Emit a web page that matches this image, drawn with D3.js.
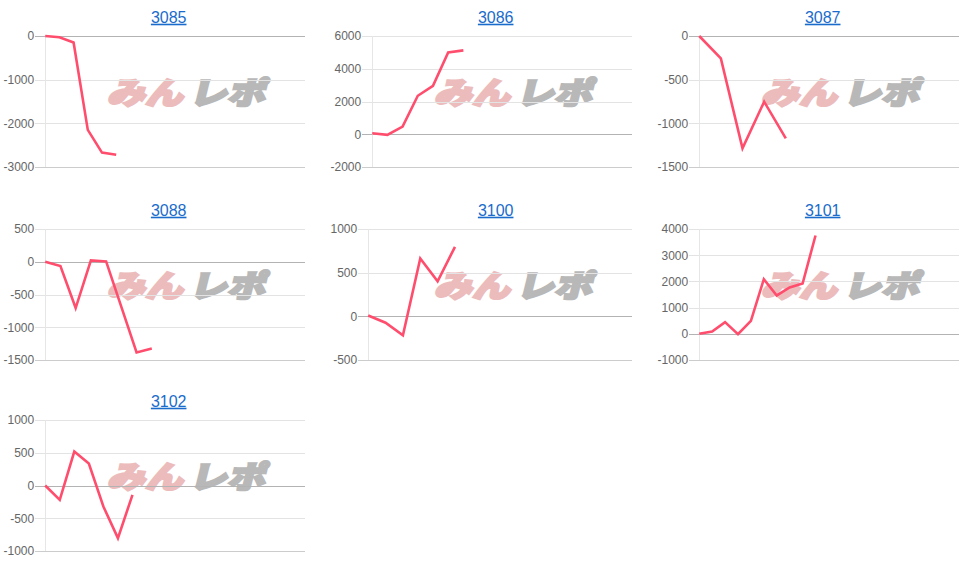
<!DOCTYPE html>
<html>
<head>
<meta charset="utf-8">
<script src="https://cdn.jsdelivr.net/npm/d3@7/dist/d3.min.js"></script>
<style>
  html, body { margin: 0; padding: 0; background: #fff; }
  svg { display: block; }
</style>
</head>
<body>
<svg id="chart" width="979" height="574"></svg>
<script>
// ---- data ----
const titles = ["3085", "3086", "3087", "3088", "3100", "3101", "3102"];
const v3085 = [0, -30, -150, -2150, -2670, -2720];
const v3086 = [60, -40, 470, 2350, 2960, 5000, 5120];
const v3087 = [0, -256, -1286, -752, -1172];
const v3088 = [0, -66, -707, 20, 5, -690, -1385, -1325];
const v3100 = [10, -73, -218, 662, 402, 796];
const v3101 = [0, 90, 445, -13, 496, 2087, 1463, 1768, 1921, 3753];
const v3102 = [0, -219, 519, 336, -321, -804, -142];
const seriesValues = [v3085, v3086, v3087, v3088, v3100, v3101, v3102];

const t3085 = [0, -1000, -2000, -3000];
const t3086 = [6000, 4000, 2000, 0, -2000];
const t3087 = [0, -500, -1000, -1500];
const t3088 = [500, 0, -500, -1000, -1500];
const t3100 = [1000, 500, 0, -500];
const t3101 = [4000, 3000, 2000, 1000, 0, -1000];
const t3102 = [1000, 500, 0, -500, -1000];
const tickSets = [t3085, t3086, t3087, t3088, t3100, t3101, t3102];

// extent of each horizontal axis (in data steps)
const xSpans = [18.3, 17.1, 12, 17.06, 15.2, 20.1, 17.86];

// ---- layout ----
const colW = 327;
const rowTops = [0, 193, 384];
const svg = d3.select("#chart");
const fontFam = "Arial, 'Liberation Sans', sans-serif";

// measure helper
const meas = svg.append("text").attr("font-family", fontFam).attr("font-size", 12).attr("opacity", 0);
function textW(s) { meas.text(s); return meas.node().getComputedTextLength(); }

titles.forEach((title, i) => {
  const col = i % 3, row = Math.floor(i / 3);
  const x0 = col * colW, y0 = rowTops[row];
  const ticks = tickSets[i];
  const vals = seriesValues[i];
  const maxW = d3.max(ticks, t => textW(String(t)));
  const left = x0 + 4 + maxW + 10.5;
  const right = x0 + 305;
  const top = y0 + 36, bottom = y0 + 167;

  const x = d3.scaleLinear().domain([0, xSpans[i]]).range([left, right]);
  const y = d3.scaleLinear().domain(d3.extent(ticks)).range([bottom, top]);

  const g = svg.append("g");

  // title
  g.append("text")
    .attr("x", x0 + 168.7).attr("y", y0 + 22.7)
    .attr("text-anchor", "middle")
    .attr("font-family", fontFam).attr("font-size", 16)
    .attr("fill", "#1a6ccc")
    .attr("text-decoration", "underline")
    .text(title);

  // watermark
  const wm = g.append("g").attr("transform", `translate(${x0 + 107},${y0 + 104}) skewX(-14) scale(1,0.9)`);
  [["みん", 0, "#ecbcbc"], ["レポ", 82, "#b8b8b8"]].forEach(([s, dx, c]) => {
    wm.append("text")
      .attr("x", dx).attr("y", 0)
      .attr("font-family", "'Noto Sans CJK JP'").attr("font-weight", 900)
      .attr("font-size", 34)
      .attr("textLength", 76).attr("lengthAdjust", "spacingAndGlyphs")
      .attr("fill", c).attr("stroke", c).attr("stroke-width", 2.6)
      .attr("stroke-linejoin", "miter")
      .text(s);
  });

  // axis + gridlines
  const axis = d3.axisLeft(y).tickValues(ticks).tickFormat(d => String(d))
    .tickSizeInner(-(right - left + 10)).tickSizeOuter(0).tickPadding(1);
  const ag = g.append("g").attr("transform", `translate(${left - 10},0)`).call(axis);
  ag.select(".domain").remove();
  ag.selectAll(".tick line")
    .attr("stroke", d => d === 0 ? "#b3b3b3" : (d === d3.min(ticks) ? "#cccccc" : "#e3e3e3"))
    .attr("stroke-width", 1)
    .attr("shape-rendering", "crispEdges");
  ag.selectAll(".tick text")
    .attr("font-family", fontFam).attr("font-size", 12)
    .attr("fill", "#666");

  // vertical axis line
  g.append("line")
    .attr("x1", left).attr("x2", left)
    .attr("y1", top).attr("y2", bottom)
    .attr("stroke", "#e6e6e6").attr("shape-rendering", "crispEdges");

  // series line
  const line = d3.line().x((d, k) => x(k)).y(d => y(d));
  g.append("path")
    .datum(vals)
    .attr("d", line)
    .attr("fill", "none")
    .attr("stroke", "#ff4d6d")
    .attr("stroke-width", 2.6)
    .attr("stroke-linejoin", "miter");
});
meas.remove();
</script>
</body>
</html>
